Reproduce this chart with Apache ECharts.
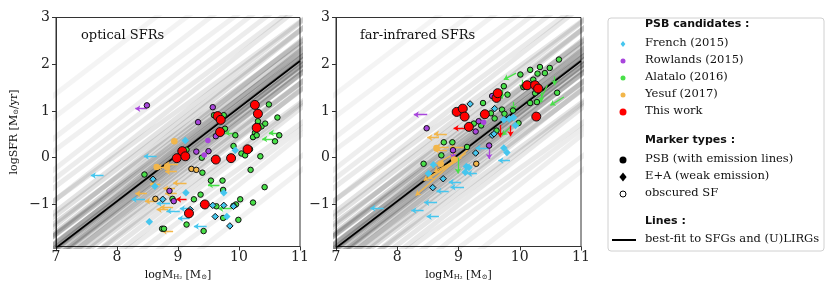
<!DOCTYPE html>
<html><head><meta charset="utf-8">
<script src="https://cdn.jsdelivr.net/npm/echarts@6/dist/echarts.min.js"></script>
<style>html,body{margin:0;padding:0;background:#fff}#c{width:830px;height:297px}</style>
</head><body><div id="c"></div>
<script>
// ---------- data ----------
const xTicks = [7, 8, 9, 10, 11];
const yTicks = [-1, 0, 1, 2, 3];
const fitX = [7, 11];
const fitY = [-1.93, 2.07];
// faint background fit realisations (offset from best fit, slope)
const bgOffset = [-2.4,-2.0,-1.7,-1.45,-1.25,-1.08,-0.94,-0.82,-0.7,-0.6,-0.5,-0.42,-0.34,-0.27,-0.2,-0.14,-0.08,-0.02,0.04,0.1,0.16,0.23,0.3,0.38,0.47,0.57,0.68,0.8,0.94,1.1,1.28,1.5,1.75,2.05,2.4,2.8,3.3];
const bgSlope  = [1.02,0.97,1.05,0.99,0.95,1.03,1.0,0.96,1.04,0.98,1.01,0.97,1.03,0.99,1.0,1.02,0.98,1.0,1.01,0.99,1.03,0.97,1.0,1.02,0.96,1.04,0.99,1.01,0.95,1.03,0.98,1.0,1.02,0.97,1.01,0.99,1.0];

// ----- optical SFR panel -----
const optRed = [[10.26,1.13],[10.31,0.94],[9.65,0.89],[9.70,0.81],[10.29,0.64],[9.69,0.55],[10.14,0.18],[9.07,0.14],[8.98,-0.01],[9.12,0.03],[9.62,-0.04],[9.87,-0.01],[9.44,-1.0],[9.18,-1.19]];
const optGreen = [[10.49,1.14],[10.63,0.86],[9.59,0.91],[9.75,0.91],[9.77,0.62],[10.31,0.78],[10.32,0.67],[10.37,0.67],[10.43,0.73],[10.26,0.53],[10.23,0.44],[10.29,0.48],[9.94,0.48],[10.66,0.48],[10.59,0.35],[9.91,0.25],[10.04,0.09],[10.10,0.05],[10.18,0.18],[10.35,0.03],[9.14,0.17],[9.39,0.0],[9.40,-0.32],[10.19,-0.26],[8.45,-0.36],[9.54,-0.49],[9.73,-0.49],[9.74,-0.69],[10.42,-0.63],[8.91,-0.88],[9.26,-0.89],[9.37,-0.79],[10.02,-0.89],[10.23,-0.96],[9.95,-1.0],[9.91,-1.03],[9.63,-1.04],[9.74,-1.29],[9.99,-1.33],[9.14,-1.43],[9.42,-1.57],[8.74,-1.52],[8.77,-1.52]];
const optPurple = [[8.49,1.12],[9.57,1.08],[9.33,0.76],[9.62,0.46],[9.30,0.13],[9.50,0.14],[8.86,-0.71],[8.93,-0.93]];
const optPurpleFilled = [[9.49,0.37],[9.43,0.06]];
const optCyanEdge = [[8.59,-0.46],[8.75,-0.89],[9.57,-1.02],[9.75,-1.02],[9.91,-1.04],[9.20,-1.11],[9.61,-1.26],[9.85,-1.46]];
const optCyan = [[9.12,0.37],[9.94,0.16],[8.62,-0.61],[9.13,-0.75],[9.75,-0.75],[9.80,-1.26],[8.53,-1.37]];
const optOrangeEdge = [[9.22,-0.24],[9.30,-0.26],[8.63,-0.88]];
const optOrange = [[8.94,0.35],[8.65,-0.2],[8.82,-0.2]];
const optCyanArrows = [[7.78,-0.38,7.57,-0.38],[8.65,0.03,8.44,0.03],[8.46,-0.89,8.24,-0.89],[8.87,-0.98,8.65,-0.98],[9.03,-1.14,8.81,-1.14],[9.24,-1.09,9.03,-1.09],[9.19,-1.30,9.0,-1.30],[9.47,-1.47,9.26,-1.47]];
const optOrangeArrows = [[9.00,-0.14,8.78,-0.14],[8.98,-0.30,8.79,-0.30],[9.14,-0.54,8.92,-0.54],[8.49,-0.77,8.30,-0.77],[8.65,-0.93,8.46,-0.93],[8.98,-0.77,8.79,-0.77],[8.95,-0.66,8.76,-0.66],[8.84,-1.11,8.65,-1.11],[8.92,-1.06,8.71,-1.06],[8.92,-1.57,8.73,-1.57],[8.71,-0.56,8.54,-0.56],[8.82,-0.20,8.65,-0.20]];
const optGreenArrows = [[9.94,0.53,9.77,0.53],[10.66,0.53,10.49,0.53],[10.59,0.40,10.38,0.40],[9.68,-0.58,9.49,-0.58],[9.88,-1.09,9.66,-1.09]];
const optPurpleArrows = [[8.49,1.05,8.30,1.05]];
const optRedArrows = [[9.14,-0.89,8.97,-0.89]];

// ----- far-infrared SFR panel -----
const firRed = [[8.97,0.98],[9.07,1.05],[9.10,0.88],[9.17,0.66],[9.43,0.93],[9.62,1.28],[9.64,1.38],[10.12,1.55],[10.25,1.55],[10.30,1.48],[10.27,0.88]];
const firGreen = [[10.64,2.10],[10.33,1.94],[10.49,1.92],[10.17,1.88],[10.41,1.81],[10.29,1.80],[10.01,1.78],[10.22,1.67],[10.06,1.51],[10.09,1.53],[9.74,1.53],[9.80,1.35],[9.40,1.17],[10.25,1.38],[10.61,1.39],[10.17,1.17],[10.28,1.19],[9.71,1.03],[9.89,1.01],[9.53,0.95],[9.59,0.84],[9.75,0.94],[9.25,0.73],[9.37,0.69],[9.98,0.74],[9.62,0.58],[8.76,0.33],[8.90,0.33],[9.14,0.23],[8.43,-0.13],[8.72,0.05]];
const firPurple = [[8.48,0.63],[9.55,1.32],[9.33,0.78],[9.28,0.56],[8.91,0.16],[9.50,0.26]];
const firPurpleFilled = [[9.41,0.76]];
const firCyanEdge = [[9.19,1.15],[9.59,1.05],[9.55,0.48],[9.58,0.51],[9.28,0.10],[8.75,-0.45],[8.58,-0.64]];
const firCyan = [[9.74,0.81],[9.83,0.83],[9.90,0.86],[9.93,0.69],[9.74,0.21],[9.79,0.11],[8.59,-0.15],[8.51,-0.34],[9.13,-0.19],[9.17,-0.21],[9.11,-0.31]];
const firOrangeEdge = [[9.29,-0.13]];
const firOrange = [[8.64,0.21],[8.71,-0.13],[8.93,-0.04]];
const firCyanArrows = [[9.49,0.21,9.28,0.21],[9.84,-0.06,9.65,-0.06],[9.30,-0.34,9.14,-0.34],[9.04,-0.52,8.84,-0.52],[9.09,-0.63,8.87,-0.63],[8.84,-0.71,8.64,-0.71],[8.65,-0.96,8.44,-0.96],[8.43,-1.13,8.23,-1.13],[8.68,-1.26,8.48,-1.26],[7.78,-1.08,7.56,-1.08]];
const firOrangeArrows = [[8.81,0.51,8.60,0.51],[8.68,0.43,8.49,0.43],[8.84,0.23,8.62,0.23],[9.08,0.23,8.86,0.23],[8.81,0.16,8.60,0.16],[9.17,0.19,8.30,-0.81],[9.12,0.09,8.43,-0.49],[9.0,-0.05,8.5,-0.45],[9.05,0.0,8.6,-0.3],[8.95,0.1,8.55,-0.2]];
const firGreenArrows = [[9.94,1.81,9.74,1.67],[9.71,1.51,9.71,1.26],[10.57,1.74,10.57,1.55],[10.35,1.50,10.35,1.19],[10.72,1.30,10.50,1.12],[9.90,1.19,9.90,1.01],[10.04,1.67,10.04,1.46],[10.45,1.55,10.30,1.15],[8.99,0.0,8.99,-0.34],[9.85,0.66,9.71,0.48]];
const firPurpleArrows = [[8.49,0.92,8.27,0.92],[8.91,0.16,8.91,-0.02],[9.50,0.23,9.50,-0.03]];
const firRedArrows = [[9.14,0.63,8.92,0.63],[9.68,0.70,9.68,0.44],[9.85,0.69,9.85,0.46]];

// ---------- styling ----------
const C = {cyan:'#46c6ee', purple:'#a845dc', green:'#48e048', orange:'#f2b64a', red:'#ff0000'};
const SERIF = 'DejaVu Serif';
const series = [];

function bgSeries(gi){
  const f9 = (fitY[0]+fitY[1])/2;
  bgOffset.forEach((o,i)=>{
    const s = bgSlope[i];
    const y = x => f9 + o + s*(x-9);
    series.push({type:'line', xAxisIndex:gi, yAxisIndex:gi, data:[[6,y(6)],[12,y(12)]], symbol:'none', silent:true,
      lineStyle:{color:'#000', width:5, opacity: 0.22/(1+1.3*Math.abs(o))}, z:1, clip:true});
  });
  series.push({type:'line', xAxisIndex:gi, yAxisIndex:gi, data:[[fitX[0],fitY[0]],[fitX[1],fitY[1]]], symbol:'none', silent:true,
    lineStyle:{color:'#000', width:1.8}, z:3, clip:true});
}
function scat(data, gi, color, shape, size, edge, z){
  series.push({type:'scatter', xAxisIndex:gi, yAxisIndex:gi, data, symbol:shape, symbolSize:size, silent:true,
    itemStyle:{color, borderColor:'#111', borderWidth: edge?1:0, opacity:1}, z});
}
function arrows(list, gi, color){
  series.push({type:'lines', coordinateSystem:'cartesian2d', xAxisIndex:gi, yAxisIndex:gi, silent:true,
    data: list.map(a=>({coords:[[a[0],a[1]],[a[2],a[3]]]})),
    symbol:['none','arrow'], symbolSize:[1,5], lineStyle:{color, width:1.3, opacity:1, curveness:0}, z:4});
}
[0,1].forEach(gi=>bgSeries(gi));
// optical
arrows(optCyanArrows,0,C.cyan); arrows(optOrangeArrows,0,C.orange); arrows(optGreenArrows,0,C.green);
arrows(optPurpleArrows,0,C.purple); arrows(optRedArrows,0,C.red);
scat(optGreen,0,C.green,'circle',5.5,true,5);
scat(optPurple,0,C.purple,'circle',5.5,true,5);
scat(optPurpleFilled,0,C.purple,'circle',5.5,false,5);
scat(optOrangeEdge,0,C.orange,'circle',5.5,true,5);
scat(optOrange,0,C.orange,'circle',6.5,false,5);
scat(optCyanEdge,0,C.cyan,'diamond',6.5,true,6);
scat(optCyan,0,C.cyan,'diamond',7.5,false,6);
scat(optRed,0,C.red,'circle',9,true,7);
// far-infrared
arrows(firCyanArrows,1,C.cyan); arrows(firOrangeArrows,1,C.orange); arrows(firGreenArrows,1,C.green);
arrows(firPurpleArrows,1,C.purple); arrows(firRedArrows,1,C.red);
scat(firGreen,1,C.green,'circle',5.5,true,5);
scat(firPurple,1,C.purple,'circle',5.5,true,5);
scat(firPurpleFilled,1,C.purple,'circle',5.5,false,5);
scat(firOrangeEdge,1,C.orange,'circle',5.5,true,5);
scat(firOrange,1,C.orange,'circle',6.5,false,5);
scat(firCyanEdge,1,C.cyan,'diamond',6.5,true,6);
scat(firCyan,1,C.cyan,'diamond',7.5,false,6);
scat(firRed,1,C.red,'circle',9,true,7);

const minusFmt = v => (v<0 ? '\u2212'+Math.abs(v) : String(v));
const xName = '{a|logM}{s|H\u2082}{a| [M}{s|\u2299}{a|]}';
const rich = {a:{fontFamily:SERIF, fontSize:11, color:'#111', verticalAlign:'bottom'}, s:{fontFamily:SERIF, fontSize:7, color:'#111', verticalAlign:'bottom', padding:[4,0,0,0]}};
function xAx(gi){
  return {type:'value', gridIndex:gi, min:xTicks[0], max:xTicks[xTicks.length-1], interval:1,
    axisLine:{show:true, onZero:false, lineStyle:{color:'#333', width:1}}, axisTick:{show:true, length:4, lineStyle:{color:'#333'}},
    axisLabel:{fontFamily:SERIF, fontSize:14, color:'#222', margin:4, showMinLabel:true, showMaxLabel:true},
    splitLine:{show:false}, name:xName, nameLocation:'middle', nameGap:22, nameTextStyle:{rich}};
}
function yAx(gi){
  const o = {type:'value', gridIndex:gi, min:-1.9, max:3,
    axisLine:{show:true, onZero:false, lineStyle:{color:'#333', width:1}},
    axisTick:{show:true, length:4, lineStyle:{color:'#333'}, customValues:yTicks},
    axisLabel:{fontFamily:SERIF, fontSize:14, color:'#222', margin:6, formatter:minusFmt, customValues:yTicks},
    splitLine:{show:false}};
  if(gi===0){ o.name='{a|logSFR [M}{s|\u2299}{a|/yr]}'; o.nameLocation='middle'; o.nameGap=36; o.nameRotate=90; o.nameTextStyle={rich}; }
  return o;
}

// legend graphic
const LX = 645, MX = 623;
const txt = (t,y,bold)=>({type:'text', left:LX, top:y-7, style:{text:t, fill:'#111', font: bold? 'bold 11px "DejaVu Sans"' : '11.5px "DejaVu Serif"'}});
const dot = (y,r,fill,stroke)=>({type:'circle', shape:{cx:MX, cy:y, r}, style:{fill, stroke: stroke||null, lineWidth: stroke?1:0}});
const dia = (y,h,fill)=>({type:'polygon', shape:{points:[[MX,y-h],[MX+h*0.8,y],[MX,y+h],[MX-h*0.8,y]]}, style:{fill}});
const legend = [
  {type:'rect', shape:{x:608, y:18, width:216, height:233, r:3}, style:{fill:'#fff', stroke:'#d0d0d0', lineWidth:1}},
  txt('PSB candidates :',26,true),
  dia(44,3,C.cyan), txt('French (2015)',44),
  dot(61,2.5,C.purple), txt('Rowlands (2015)',61),
  dot(78,2.5,C.green), txt('Alatalo (2016)',78),
  dot(95,2.5,C.orange), txt('Yesuf (2017)',95),
  dot(112,3.5,C.red), txt('This work',112),
  txt('Marker types :',142,true),
  dot(160,3.5,'#000'), txt('PSB (with emission lines)',160),
  dia(177,4.5,'#000'), txt('E+A (weak emission)',177),
  dot(194,3,'#fff','#000'), txt('obscured SF',194),
  txt('Lines :',223,true),
  {type:'line', shape:{x1:612, y1:240, x2:636, y2:240}, style:{stroke:'#000', lineWidth:2}},
  txt('best-fit to SFGs and (U)LIRGs',240),
  {type:'text', left:81, top:29, style:{text:'optical SFRs', fill:'#111', font:'13px "DejaVu Serif"'}},
  {type:'text', left:360, top:29, style:{text:'far-infrared SFRs', fill:'#111', font:'13px "DejaVu Serif"'}}
];

const chart = echarts.init(document.getElementById('c'), null, {renderer:'canvas'});
chart.setOption({
  animation:false, backgroundColor:'#fff',
  grid:[{left:56, top:17.5, width:244, height:229, show:true, borderColor:'#333', borderWidth:1, backgroundColor:'transparent'},
        {left:336, top:17.5, width:245, height:229, show:true, borderColor:'#333', borderWidth:1, backgroundColor:'transparent'}],
  xAxis:[xAx(0), xAx(1)], yAxis:[yAx(0), yAx(1)],
  series, graphic:legend
});
</script></body></html>
